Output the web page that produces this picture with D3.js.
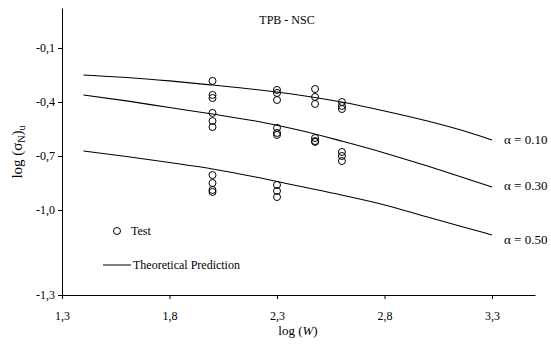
<!DOCTYPE html>
<html>
<head>
<meta charset="utf-8">
<script src="https://cdn.jsdelivr.net/npm/d3@7"></script>
<style>
body { margin: 0; background: #fff; }
svg { font-family: "Liberation Serif", "DejaVu Serif", serif; }
</style>
</head>
<body>
<svg width="551" height="349"></svg>
<script>
var svg = d3.select("svg");

// theoretical curves, log(W) vs log(sigma_N)_u
var curveX = [1.4, 1.6, 1.8, 2.0, 2.2, 2.4, 2.6, 2.8, 3.0, 3.2, 3.3];
var alpha10 = [-0.250, -0.264, -0.283, -0.306, -0.331, -0.361, -0.400, -0.450, -0.506, -0.572, -0.611];
var alpha30 = [-0.361, -0.394, -0.431, -0.467, -0.506, -0.556, -0.617, -0.683, -0.756, -0.833, -0.872];
var alpha50 = [-0.672, -0.703, -0.736, -0.772, -0.817, -0.867, -0.917, -0.972, -1.025, -1.067, -1.088];
var curveLabels = ["\u03b1 = 0.10", "\u03b1 = 0.30", "\u03b1 = 0.50"];

// test results
var testX = [2.0, 2.0, 2.0, 2.0, 2.0, 2.0, 2.0, 2.0, 2.0, 2.0,
             2.3, 2.3, 2.3, 2.3, 2.3, 2.3, 2.3, 2.3, 2.3,
             2.477, 2.477, 2.477, 2.477, 2.477, 2.477,
             2.602, 2.602, 2.602, 2.602, 2.602, 2.602];
var testY = [-0.283, -0.361, -0.378, -0.461, -0.506, -0.539, -0.806, -0.850, -0.889, -0.900,
             -0.333, -0.350, -0.389, -0.544, -0.572, -0.583, -0.861, -0.894, -0.928,
             -0.328, -0.372, -0.411, -0.600, -0.617, -0.622,
             -0.400, -0.422, -0.439, -0.678, -0.700, -0.728];

var xTicks = [1.3, 1.8, 2.3, 2.8, 3.3];
var yTicks = [-1.3, -1.0, -0.7, -0.4, -0.1];

var x = d3.scaleLinear().domain([1.3, 3.5]).range([62, 535]);
// the original axis has a stretched first interval
var y = d3.scaleLinear().domain([-1.3, -1.0, 0.122]).range([295, 210, 8]);

function fmt(d) { return d3.format(".1f")(d).replace(".", ",").replace("\u2212", "-"); }

svg.append("g")
    .attr("transform", "translate(0,295)")
    .call(d3.axisBottom(x).tickValues(xTicks).tickFormat(fmt).tickSize(4).tickSizeOuter(0))
    .call(function(g){
        g.attr("font-family", "Liberation Serif").attr("font-size", 12);
        g.selectAll("text").attr("dy", "1.5em").attr("fill", "#000");
    });

svg.append("g")
    .attr("transform", "translate(62,0)")
    .call(d3.axisLeft(y).tickValues(yTicks).tickFormat(fmt).tickSize(4).tickSizeOuter(0))
    .call(function(g){
        g.attr("font-family", "Liberation Serif").attr("font-size", 12);
        g.selectAll("text").attr("fill", "#000");
    });

var line = d3.line()
    .x(function(d){ return x(d[0]); })
    .y(function(d){ return y(d[1]); })
    .curve(d3.curveMonotoneX);

var labelNudge = [4, 3, 9];

[alpha10, alpha30, alpha50].forEach(function(s, i){
    var pts = curveX.map(function(v, j){ return [v, s[j]]; });
    svg.append("path")
        .attr("d", line(pts))
        .attr("fill", "none")
        .attr("stroke", "#000")
        .attr("stroke-width", 1.1);
    svg.append("text")
        .attr("x", x(3.3) + 12)
        .attr("y", y(s[s.length - 1]) + labelNudge[i])
        .attr("font-size", 13)
        .text(curveLabels[i]);
});

svg.append("g").selectAll("circle")
    .data(testX)
    .enter()
    .append("circle")
    .attr("cx", function(d){ return x(d); })
    .attr("cy", function(d, i){ return y(testY[i]); })
    .attr("r", 3.5)
    .attr("fill", "none")
    .attr("stroke", "#000")
    .attr("stroke-width", 1);

// legend
svg.append("circle").attr("cx", 117).attr("cy", 231).attr("r", 3.5)
    .attr("fill", "none").attr("stroke", "#000");
svg.append("text").attr("x", 131).attr("y", 235).attr("font-size", 12).text("Test");
svg.append("line").attr("x1", 103).attr("x2", 131).attr("y1", 265).attr("y2", 265)
    .attr("stroke", "#000");
svg.append("text").attr("x", 133).attr("y", 269).attr("font-size", 12).text("Theoretical Prediction");

// title and axis titles
svg.append("text").attr("x", 287).attr("y", 24).attr("text-anchor", "middle")
    .attr("font-size", 12).text("TPB - NSC");

var xl = svg.append("text").attr("x", 298).attr("y", 335).attr("text-anchor", "middle")
    .attr("font-size", 13);
xl.append("tspan").text("log (");
xl.append("tspan").attr("font-style", "italic").text("W");
xl.append("tspan").text(")");

var yl = svg.append("text").attr("transform", "translate(22,152) rotate(-90)")
    .attr("text-anchor", "middle").attr("font-size", 15);
yl.append("tspan").text("log (\u03c3");
yl.append("tspan").attr("font-size", 10).attr("dy", 3).text("N");
yl.append("tspan").attr("dy", -3).text(")");
yl.append("tspan").attr("font-size", 10).attr("dy", 3).text("u");
</script>
</body>
</html>
